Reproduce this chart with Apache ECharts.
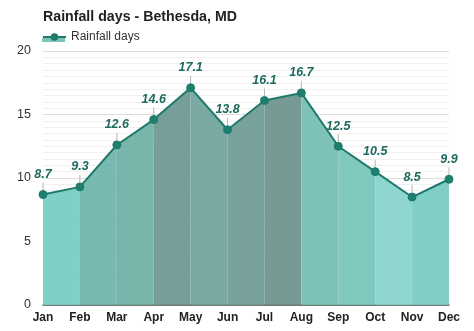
<!DOCTYPE html>
<html>
<head>
<meta charset="utf-8">
<script src="https://cdn.jsdelivr.net/npm/echarts@6/dist/echarts.min.js"></script>
<style>html,body{margin:0;padding:0;background:#fff}#c{width:474px;height:331px}</style>
</head>
<body>
<div id="c"></div>
<script>
var months = ['Jan','Feb','Mar','Apr','May','Jun','Jul','Aug','Sep','Oct','Nov','Dec'];
var rainfallDays = [8.7, 9.3, 12.6, 14.6, 17.1, 13.8, 16.1, 16.7, 12.5, 10.5, 8.5, 9.9];
var yTicks = [0, 5, 10, 15, 20];
var seriesName = 'Rainfall days';
var chartTitle = 'Rainfall days - Bethesda, MD';

// segment fill colours (between consecutive months)
var segColors = ['#7fd0c6','#78bab1','#7ab5ac','#789f99','#7aaaa3','#7ba29c','#789a95','#7ec2b8','#7fc9bf','#8fd6ce','#80cec5'];

function tinted(hex, a) {
  var r = parseInt(hex.substr(1,2),16), g = parseInt(hex.substr(3,2),16), b = parseInt(hex.substr(5,2),16);
  function f(c){ return Math.max(0, Math.round((c - 255*(1-a))/a)); }
  return 'rgba(' + f(r) + ',' + f(g) + ',' + f(b) + ',' + a + ')';
}

var series = [];
segColors.forEach(function(col, i) {
  var d = rainfallDays.map(function(v, j){ return (j === i || j === i+1) ? v : '-'; });
  series.push({
    type: 'line', data: d, symbol: 'none', silent: true,
    lineStyle: { width: 0 },
    areaStyle: { color: tinted(col, 0.9), opacity: 1 },
    z: 1
  });
});

// leader lines from labels to points
series.push({
  type: 'custom', silent: true, z: 3,
  data: rainfallDays.map(function(v, i){ return [i, v]; }),
  renderItem: function(params, api) {
    var p = api.coord([api.value(0), api.value(1)]);
    return { type: 'line', shape: { x1: p[0], y1: p[1] - 4, x2: p[0], y2: p[1] - 12 },
      style: { stroke: '#b5b5b5', lineWidth: 1 } };
  }
});

series.push({
  name: seriesName, type: 'line', data: rainfallDays, z: 5,
  symbol: 'circle', symbolSize: 8,
  lineStyle: { color: '#1f7a6b', width: 2 },
  itemStyle: { color: '#1f7f6f', borderColor: '#1f7a6b', borderWidth: 1 },
  label: { show: true, position: 'top', distance: 9, color: '#1d6a5e',
    fontFamily: 'Liberation Sans', fontWeight: 'bold', fontStyle: 'italic', fontSize: 12.5 }
});

var chart = echarts.init(document.getElementById('c'), null, { renderer: 'canvas' });
chart.setOption({
  animation: false,
  backgroundColor: '#fff',
  title: { text: chartTitle, left: 43, top: 10, padding: 0,
    textStyle: { fontFamily: 'Liberation Sans', fontWeight: 'bold', fontSize: 14.2, color: '#222' } },
  legend: { data: [seriesName], left: 42, top: 31, padding: 0, itemWidth: 23, itemHeight: 7, itemGap: 5,
    textStyle: { fontFamily: 'Liberation Sans', fontSize: 12, color: '#333' } },
  graphic: [{ type: 'rect', left: 42, top: 38, z: -1, shape: { width: 23, height: 4 }, style: { fill: '#7ec3b9' } }],
  grid: { left: 43, right: 25, top: 51, bottom: 26 },
  xAxis: {
    type: 'category', data: months, boundaryGap: false,
    axisLine: { lineStyle: { color: '#555', width: 1.5 } },
    axisTick: { show: false },
    axisLabel: { margin: 7, color: '#222', fontFamily: 'Liberation Sans', fontWeight: 'bold', fontSize: 12 },
    splitLine: { show: false }
  },
  yAxis: {
    type: 'value', min: yTicks[0], max: yTicks[yTicks.length-1], interval: 5,
    axisLine: { show: false }, axisTick: { show: false },
    axisLabel: { margin: 12, color: '#333', fontFamily: 'Liberation Sans', fontSize: 12.5 },
    splitLine: { lineStyle: { color: '#dcdcdc', width: 1 } },
    minorTick: { show: false, splitNumber: 10 },
    minorSplitLine: { show: true, lineStyle: { color: '#f0f0f0', width: 1 } }
  },
  series: series
});
</script>
</body>
</html>
